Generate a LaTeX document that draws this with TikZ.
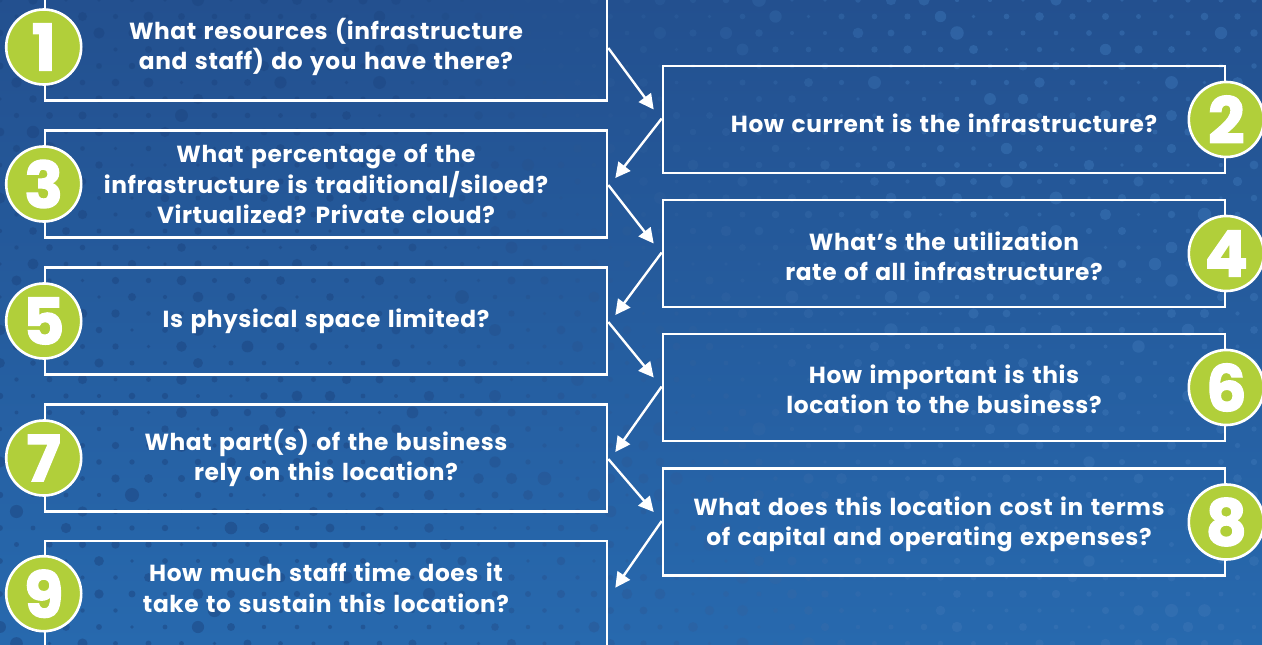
\documentclass[tikz,border=0pt]{standalone}
\usepackage{fontspec}
\setmainfont{Poppins}[LetterSpace=2.5,WordSpace=1.35]
\newfontfamily\numfont{Poppins}[FakeBold=2]
\usetikzlibrary{arrows.meta,calc}
\definecolor{bgtop}{HTML}{23508F}
\definecolor{bgbot}{HTML}{2769AE}
\definecolor{dotdark}{HTML}{1D4580}
\definecolor{dotlight}{HTML}{3B74B5}
\definecolor{numgreen}{HTML}{B1CF3A}
\tikzset{
  qbox/.style={draw=white, line width=2.6pt, minimum width=562pt, minimum height=107pt,
    inner sep=0pt, align=center, text=white, font=\bfseries\fontsize{23.3}{30.5}\selectfont},
  qtext/.style={inner sep=0pt, align=center, text=white, font=\bfseries\fontsize{23.3}{30.5}\selectfont},
  numcirc/.style={circle, fill=numgreen, draw=white, line width=2.6pt, minimum size=75pt,
    inner sep=0pt, text=white, font=\numfont\bfseries\fontsize{64}{64}\selectfont},
  flow/.style={white, line width=2.4pt, -{Triangle[length=15pt,width=15pt]}},
}
\begin{document}
\begin{tikzpicture}[x=1pt,y=-1pt]
\useasboundingbox (0,0) rectangle (1262,645);
\shade[top color=bgtop,bottom color=bgbot] (0,0) rectangle (1262,645);
% background dots
\pgfmathsetseed{12}
\foreach \j in {0,...,39}{
  \foreach \i in {0,...,38}{
    \pgfmathsetmacro\xx{\i*33+mod(\j,2)*16.5}
    \pgfmathsetmacro\yy{\j*16.5}
    \pgfmathsetmacro\rr{1.8+5.5*rnd*rnd}
    \pgfmathtruncatemacro\pp{min(100,max(0,(\xx-350)/6))}
    \fill[dotlight!\pp!dotdark, opacity=0.5] (\xx,\yy) circle (\rr);
  }}
% boxes
\node[qbox] (b1) at (326,47) {What resources (infrastructure\\and staff) do you have there?};
\node[qbox] (b2) at (944,119.5) {};
\node[qtext] (t2) at (944,123) {How current is the infrastructure?};
\node[qbox] (b3) at (326,184) {What percentage of the\\infrastructure is traditional/siloed?\\Virtualized? Private cloud?};
\node[qbox] (b4) at (944,253.5) {};
\node[qtext] (t4) at (944,256.5) {What’s the utilization\\rate of all infrastructure?};
\node[qbox] (b5) at (326,321) {Is physical space limited?};
\node[qbox] (b6) at (944,387.5) {};
\node[qtext] (t6) at (944,389.5) {How important is this\\location to the business?};
\node[qbox] (b7) at (326,458) {What part(s) of the business\\rely on this location?};
\node[qbox] (b8) at (944,522) {};
\node[qtext] (t8) at (929,524.5) {What does this location cost in terms\\of capital and operating expenses?};
\node[qbox, minimum height=130pt] (b9) at (326,606) {};
\node[qtext] (t9) at (326,588) {How much staff time does it\\take to sustain this location?};
% arrows
\draw[flow] ($(b1.east)+(0,1)$) -- ($(b2.west)+(-8,-10)$);
\draw[flow] ($(b2.west)+(0,-1)$) -- ($(b3.east)+(7,-6)$);
\draw[flow] ($(b3.east)+(0,1)$) -- ($(b4.west)+(-8,-10)$);
\draw[flow] ($(b4.west)+(0,-1)$) -- ($(b5.east)+(7,-6)$);
\draw[flow] ($(b5.east)+(0,1)$) -- ($(b6.west)+(-8,-10)$);
\draw[flow] ($(b6.west)+(0,-1)$) -- ($(b7.east)+(7,-6)$);
\draw[flow] ($(b7.east)+(0,1)$) -- ($(b8.west)+(-8,-10)$);
\draw[flow] ($(b8.west)+(0,-1)$) -- ($(b9.north east)+(7,48)$);
% number circles
\node[numcirc] (n1) at (b1.west) {1};
\node[numcirc] (n2) at (b2.east) {2};
\node[numcirc] (n3) at (b3.west) {3};
\node[numcirc] (n4) at (b4.east) {4};
\node[numcirc] (n5) at (b5.west) {5};
\node[numcirc] (n6) at (b6.east) {6};
\node[numcirc] (n7) at (b7.west) {7};
\node[numcirc] (n8) at (b8.east) {8};
\node[numcirc] (n9) at ($(b9.north west)+(0,54)$) {9};
\end{tikzpicture}
\end{document}
